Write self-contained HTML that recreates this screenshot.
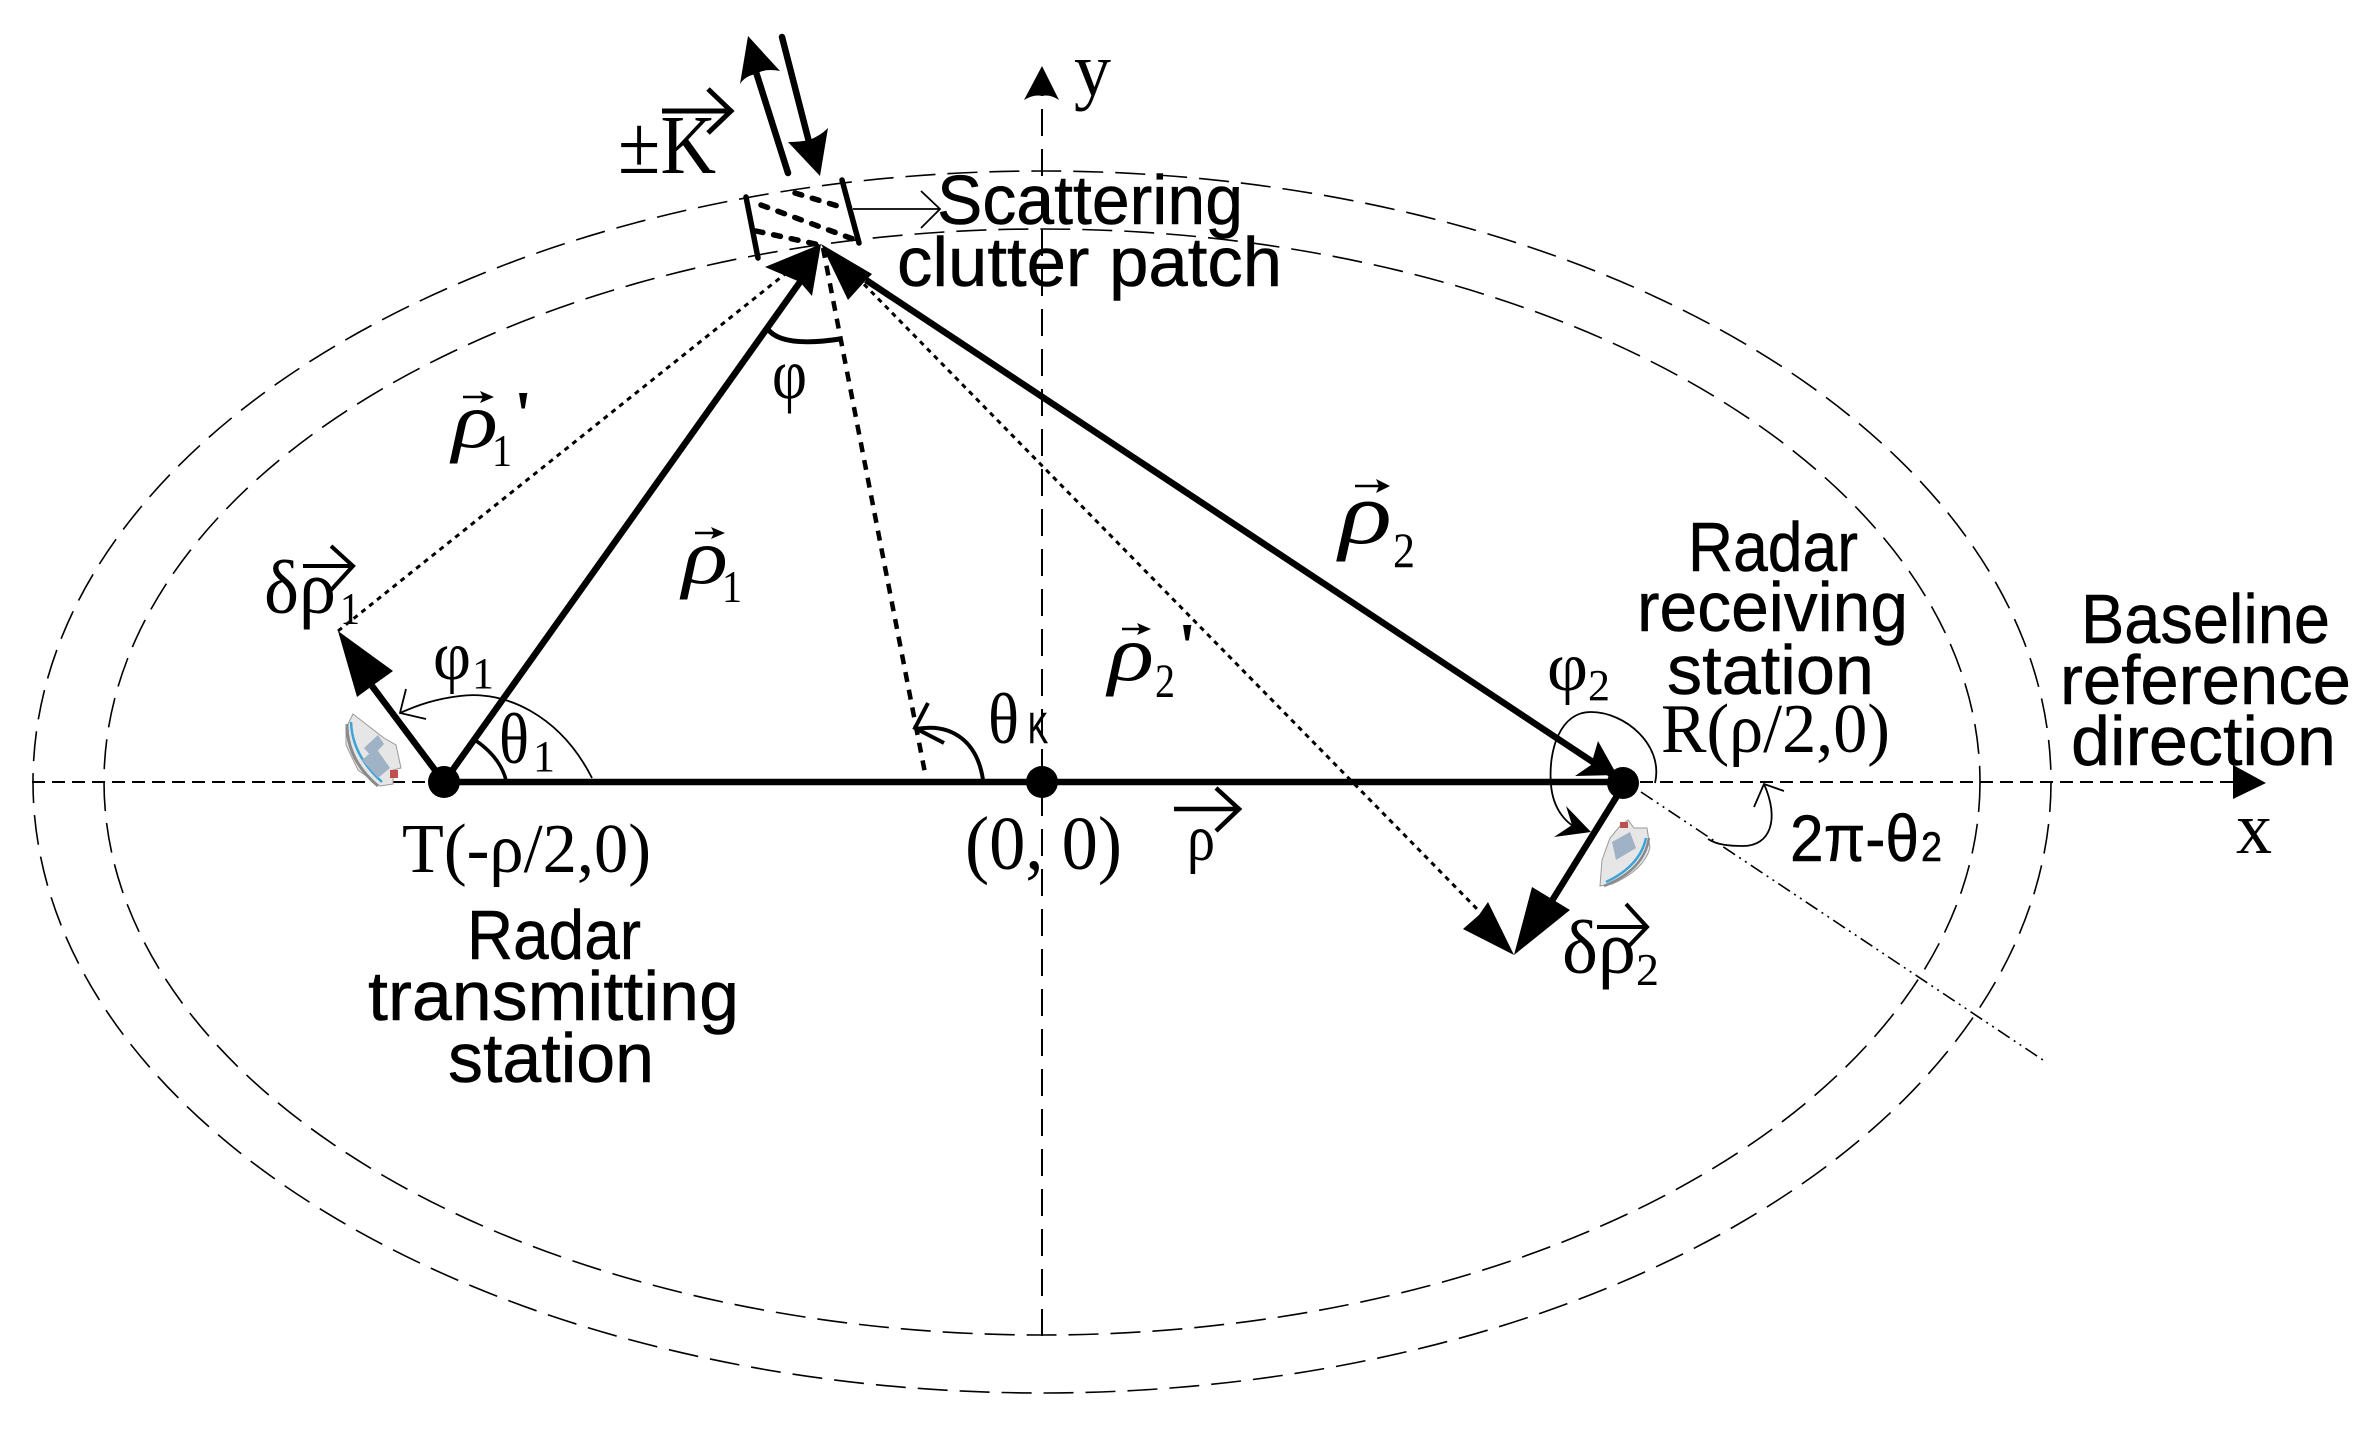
<!DOCTYPE html>
<html><head><meta charset="utf-8"><style>
html,body{margin:0;padding:0;background:#fff}
svg{display:block}
.s{font-family:"Liberation Sans",sans-serif;font-size:70px;fill:#000;stroke:#000;stroke-width:.5}
.r{font-family:"Liberation Serif",serif;fill:#000}
.i{font-family:"Liberation Serif",serif;font-style:italic;fill:#000}
</style></head><body>
<svg xmlns="http://www.w3.org/2000/svg" width="2372" height="1436" viewBox="0 0 2372 1436">
<rect width="2372" height="1436" fill="#fff"/>
<!-- ellipses -->
<g fill="none" stroke="#000" stroke-width="1.6" stroke-dasharray="30 12">
<ellipse cx="1042" cy="782" rx="1009" ry="611"/>
<ellipse cx="1042" cy="782" rx="938" ry="553"/>
</g>
<!-- axes -->
<path d="M32 782H430M1640 782H2240" stroke="#000" stroke-width="2" stroke-dasharray="13 7" fill="none"/>
<path d="M1042 1336V94" stroke="#000" stroke-width="2" stroke-dasharray="27 13" fill="none"/>
<path d="M1042 66L1059 100Q1050 94 1042 96Q1034 94 1024 100Z"/>
<path d="M2266 783L2233 765V799Z"/>
<!-- dash-dot -->
<path d="M1641 792L2043 1060" stroke="#000" stroke-width="1.6" stroke-dasharray="14 5 2 5 2 5" fill="none"/>
<!-- thin dotted -->
<path d="M338 631L800 262" stroke="#000" stroke-width="3" stroke-dasharray="5 5" fill="none"/>
<path d="M850 270L1480 912" stroke="#000" stroke-width="3" stroke-dasharray="5 5" fill="none"/>
<!-- thick lines -->
<g stroke="#000" fill="none" stroke-width="6.5">
<path d="M444 782H1623"/>
<path d="M444 782L800 282"/>
<path d="M1623 782L866 280"/>
<path d="M444 782L372 686"/>
<path d="M1617 796L1545 912"/>
<path d="M788 173L756 72" stroke-linecap="round"/>
<path d="M782 37L809 142" stroke-linecap="round"/>
</g>
<!-- thick dashed -->
<path d="M823 248L925 773" stroke="#000" stroke-width="4.5" stroke-dasharray="10 8" fill="none"/>
<!-- arrowheads -->
<path d="M821 244L765 267L800 282L812 296Z"/>
<path d="M821 244L872 274L866 280L848 300Z"/>
<path d="M748 36L780 71Q765 68 756 74Q745 76 740 84Z"/>
<path d="M820 176L788 142Q800 142 809 140Q820 136 828 128Z"/>
<path d="M338 631L393 671L372 686L357 697Z"/>
<path d="M1514 955L1532 887L1570 910Z"/>
<path d="M1514 955L1488 902L1479 915L1463 929Z"/>
<path d="M1617 775L1598 741L1591 765L1575 776Z"/>
<!-- patch -->
<g stroke="#000" fill="none" stroke-width="5.5" stroke-linecap="round">
<path d="M746 197L758 258"/>
<path d="M842 180L859 243"/>
</g>
<g stroke="#000" fill="none" stroke-width="5.5" stroke-dasharray="7 11" stroke-linecap="round">
<path d="M795 193L841 207"/>
<path d="M761 205L853 239"/>
<path d="M756 231L820 245"/>
</g>
<!-- scatter arrow -->
<path d="M853 209H940M921 191L940 209L921 228" stroke="#000" stroke-width="1.8" fill="none"/>
<!-- k arrow -->
<path d="M662 111H729M708 89L731 111L708 133" stroke="#000" stroke-width="5" fill="none"/>
<!-- phi arc -->
<path d="M767 328Q780 348 840 339" stroke="#000" stroke-width="5" fill="none"/>
<!-- phi1 arc -->
<path d="M592 778C560 715 505 690 460 696C435 699 418 705 400 713" stroke="#000" stroke-width="1.8" fill="none"/>
<path d="M406 689L400 713L426 719" stroke="#000" stroke-width="1.8" fill="none"/>
<!-- theta1 arc -->
<path d="M475 740Q500 757 506 780" stroke="#000" stroke-width="3.5" fill="none"/>
<!-- thetaK arc -->
<path d="M983 780C978 745 955 722 916 729" stroke="#000" stroke-width="4" fill="none"/>
<path d="M928 703L915 728L944 743" stroke="#000" stroke-width="4" fill="none"/>
<!-- phi2 arc -->
<path d="M1655 783C1664 745 1625 712 1591 712C1560 712 1548 750 1551 785C1553 808 1565 825 1585 832" stroke="#000" stroke-width="1.8" fill="none"/>
<path d="M1591 832L1566 806L1572 825L1554 837Z"/>
<!-- 2pi arc -->
<path d="M1764 784C1780 820 1770 846 1743 846C1730 846 1717 845 1708 839" stroke="#000" stroke-width="1.8" fill="none"/>
<path d="M1784 791L1764 784L1754 807" stroke="#000" stroke-width="1.8" fill="none"/>
<!-- dots -->
<circle cx="444" cy="782" r="16"/>
<circle cx="1042" cy="782" r="16"/>
<circle cx="1623" cy="783" r="16"/>
<!-- rho arrows -->
<path d="M1174 809H1237M1216 788L1239 809L1216 831" stroke="#000" stroke-width="4.5" fill="none"/>
<path d="M303 566H351M331 546L353 566L331 590" stroke="#000" stroke-width="4" fill="none"/>
<path d="M1597 927H1645M1626 904L1647 927L1626 949" stroke="#000" stroke-width="4" fill="none"/>
<g stroke="#000" stroke-width="2.4" fill="none">
<path d="M463 397H490"/><path d="M695 533H721"/><path d="M1355 486H1386"/><path d="M1122 629H1147"/>
</g>
<path d="M494 397L480 391L483 397L480 403Z"/>
<path d="M725 533L711 527L714 533L711 539Z"/>
<path d="M1390 486L1376 479L1379 486L1376 493Z"/>
<path d="M1151 629L1137 623L1140 629L1137 635Z"/>
<!-- ships -->
<g>
<path d="M353 714L384 738L396 745L401 768L393 770L393 784L380 786L358 770L346 745L346 728Z" fill="#e6e6e6" stroke="#999" stroke-width="1"/>
<path d="M347 724Q347 760 378 786" stroke="#8a8a8a" stroke-width="3" fill="none"/>
<path d="M351 722Q352 755 382 782" stroke="#3ba3d8" stroke-width="2.5" fill="none"/>
<path d="M364 748L378 735L384 744L372 757ZM362 760L376 748L390 768L378 778Z" fill="#9fb2c6"/>
<rect x="390" y="770" width="8" height="8" fill="#c0504d"/>
<path d="M1647 828L1650 848Q1644 870 1612 884L1600 886L1602 860L1610 838L1620 826L1628 820L1634 828Z" fill="#e6e6e6" stroke="#999" stroke-width="1"/>
<path d="M1649 838Q1644 870 1604 886" stroke="#8a8a8a" stroke-width="2.5" fill="none"/>
<path d="M1646 838Q1640 866 1606 882" stroke="#3ba3d8" stroke-width="2.5" fill="none"/>
<path d="M1612 842L1630 832L1636 848L1616 860Z" fill="#9fb2c6"/>
<rect x="1620" y="822" width="8" height="6" fill="#c0504d"/>
</g>
<!-- sans text -->
<text class="s" x="937" y="224" textLength="306" lengthAdjust="spacingAndGlyphs">Scattering</text>
<text class="s" x="897" y="286" textLength="385" lengthAdjust="spacingAndGlyphs">clutter patch</text>
<text class="s" x="467" y="959" textLength="174" lengthAdjust="spacingAndGlyphs">Radar</text>
<text class="s" x="368" y="1020" textLength="371" lengthAdjust="spacingAndGlyphs">transmitting</text>
<text class="s" x="448" y="1082" textLength="206" lengthAdjust="spacingAndGlyphs">station</text>
<text class="s" x="1688" y="571" textLength="170" lengthAdjust="spacingAndGlyphs">Radar</text>
<text class="s" x="1637" y="631" textLength="271" lengthAdjust="spacingAndGlyphs">receiving</text>
<text class="s" x="1667" y="694" textLength="207" lengthAdjust="spacingAndGlyphs">station</text>
<text class="s" x="2081" y="643" textLength="249" lengthAdjust="spacingAndGlyphs">Baseline</text>
<text class="s" x="2060" y="704" textLength="291" lengthAdjust="spacingAndGlyphs">reference</text>
<text class="s" x="2071" y="765" textLength="265" lengthAdjust="spacingAndGlyphs">direction</text>
<text class="s" x="1790" y="861" style="font-size:66px" textLength="129" lengthAdjust="spacingAndGlyphs">2π-θ</text>
<text class="s" x="1921" y="861" style="font-size:42px" textLength="21" lengthAdjust="spacingAndGlyphs">2</text>
<text class="s" x="1028" y="743" style="font-size:44px" textLength="20" lengthAdjust="spacingAndGlyphs">K</text>
<!-- serif text -->
<text class="r" x="618" y="173" font-size="84" textLength="98" lengthAdjust="spacingAndGlyphs">±K</text>
<text class="r" x="1074" y="95" font-size="76" textLength="37" lengthAdjust="spacingAndGlyphs">y</text>
<text class="r" x="2236" y="853" font-size="74" textLength="36" lengthAdjust="spacingAndGlyphs">x</text>
<text class="r" x="772" y="398" font-size="72" textLength="35" lengthAdjust="spacingAndGlyphs">φ</text>
<text class="r" x="264" y="613" font-size="76" textLength="72" lengthAdjust="spacingAndGlyphs">δρ</text>
<text class="r" x="340" y="624" font-size="46" textLength="20" lengthAdjust="spacingAndGlyphs">1</text>
<text class="r" x="433" y="679" font-size="70" textLength="38" lengthAdjust="spacingAndGlyphs">φ</text>
<text class="r" x="472" y="688" font-size="44">1</text>
<text class="r" x="499" y="763" font-size="72" textLength="30" lengthAdjust="spacingAndGlyphs">θ</text>
<text class="r" x="533" y="771" font-size="44">1</text>
<text class="r" x="402" y="872" font-size="70" textLength="249" lengthAdjust="spacingAndGlyphs">T(-ρ/2,0)</text>
<text class="r" x="988" y="743" font-size="72" textLength="31" lengthAdjust="spacingAndGlyphs">θ</text>
<text class="r" x="965" y="869" font-size="76" textLength="157" lengthAdjust="spacingAndGlyphs">(0, 0)</text>
<text class="r" x="1187" y="860" font-size="66" textLength="28" lengthAdjust="spacingAndGlyphs">ρ</text>
<text class="r" x="1547" y="690" font-size="70" textLength="41" lengthAdjust="spacingAndGlyphs">φ</text>
<text class="r" x="1588" y="700" font-size="44">2</text>
<text class="r" x="1661" y="752" font-size="70" textLength="229" lengthAdjust="spacingAndGlyphs">R(ρ/2,0)</text>
<text class="r" x="1562" y="973" font-size="76" textLength="74" lengthAdjust="spacingAndGlyphs">δρ</text>
<text class="r" x="1636" y="985" font-size="46">2</text>
<!-- italic rho labels -->
<text class="i" x="452" y="447" font-size="78" textLength="46" lengthAdjust="spacingAndGlyphs">ρ</text>
<text class="r" x="492" y="466" font-size="46" textLength="20" lengthAdjust="spacingAndGlyphs">1</text>
<text class="r" x="514" y="436" font-size="66" font-weight="bold">'</text>
<text class="i" x="682" y="583" font-size="78" textLength="46" lengthAdjust="spacingAndGlyphs">ρ</text>
<text class="r" x="722" y="602" font-size="46" textLength="20" lengthAdjust="spacingAndGlyphs">1</text>
<text class="i" x="1339" y="543" font-size="88" textLength="53" lengthAdjust="spacingAndGlyphs">ρ</text>
<text class="r" x="1393" y="567" font-size="50" textLength="22" lengthAdjust="spacingAndGlyphs">2</text>
<text class="i" x="1108" y="680" font-size="78" textLength="46" lengthAdjust="spacingAndGlyphs">ρ</text>
<text class="r" x="1155" y="697" font-size="48" textLength="20" lengthAdjust="spacingAndGlyphs">2</text>
<text class="r" x="1178" y="668" font-size="66" font-weight="bold">'</text>
</svg>
</body></html>
